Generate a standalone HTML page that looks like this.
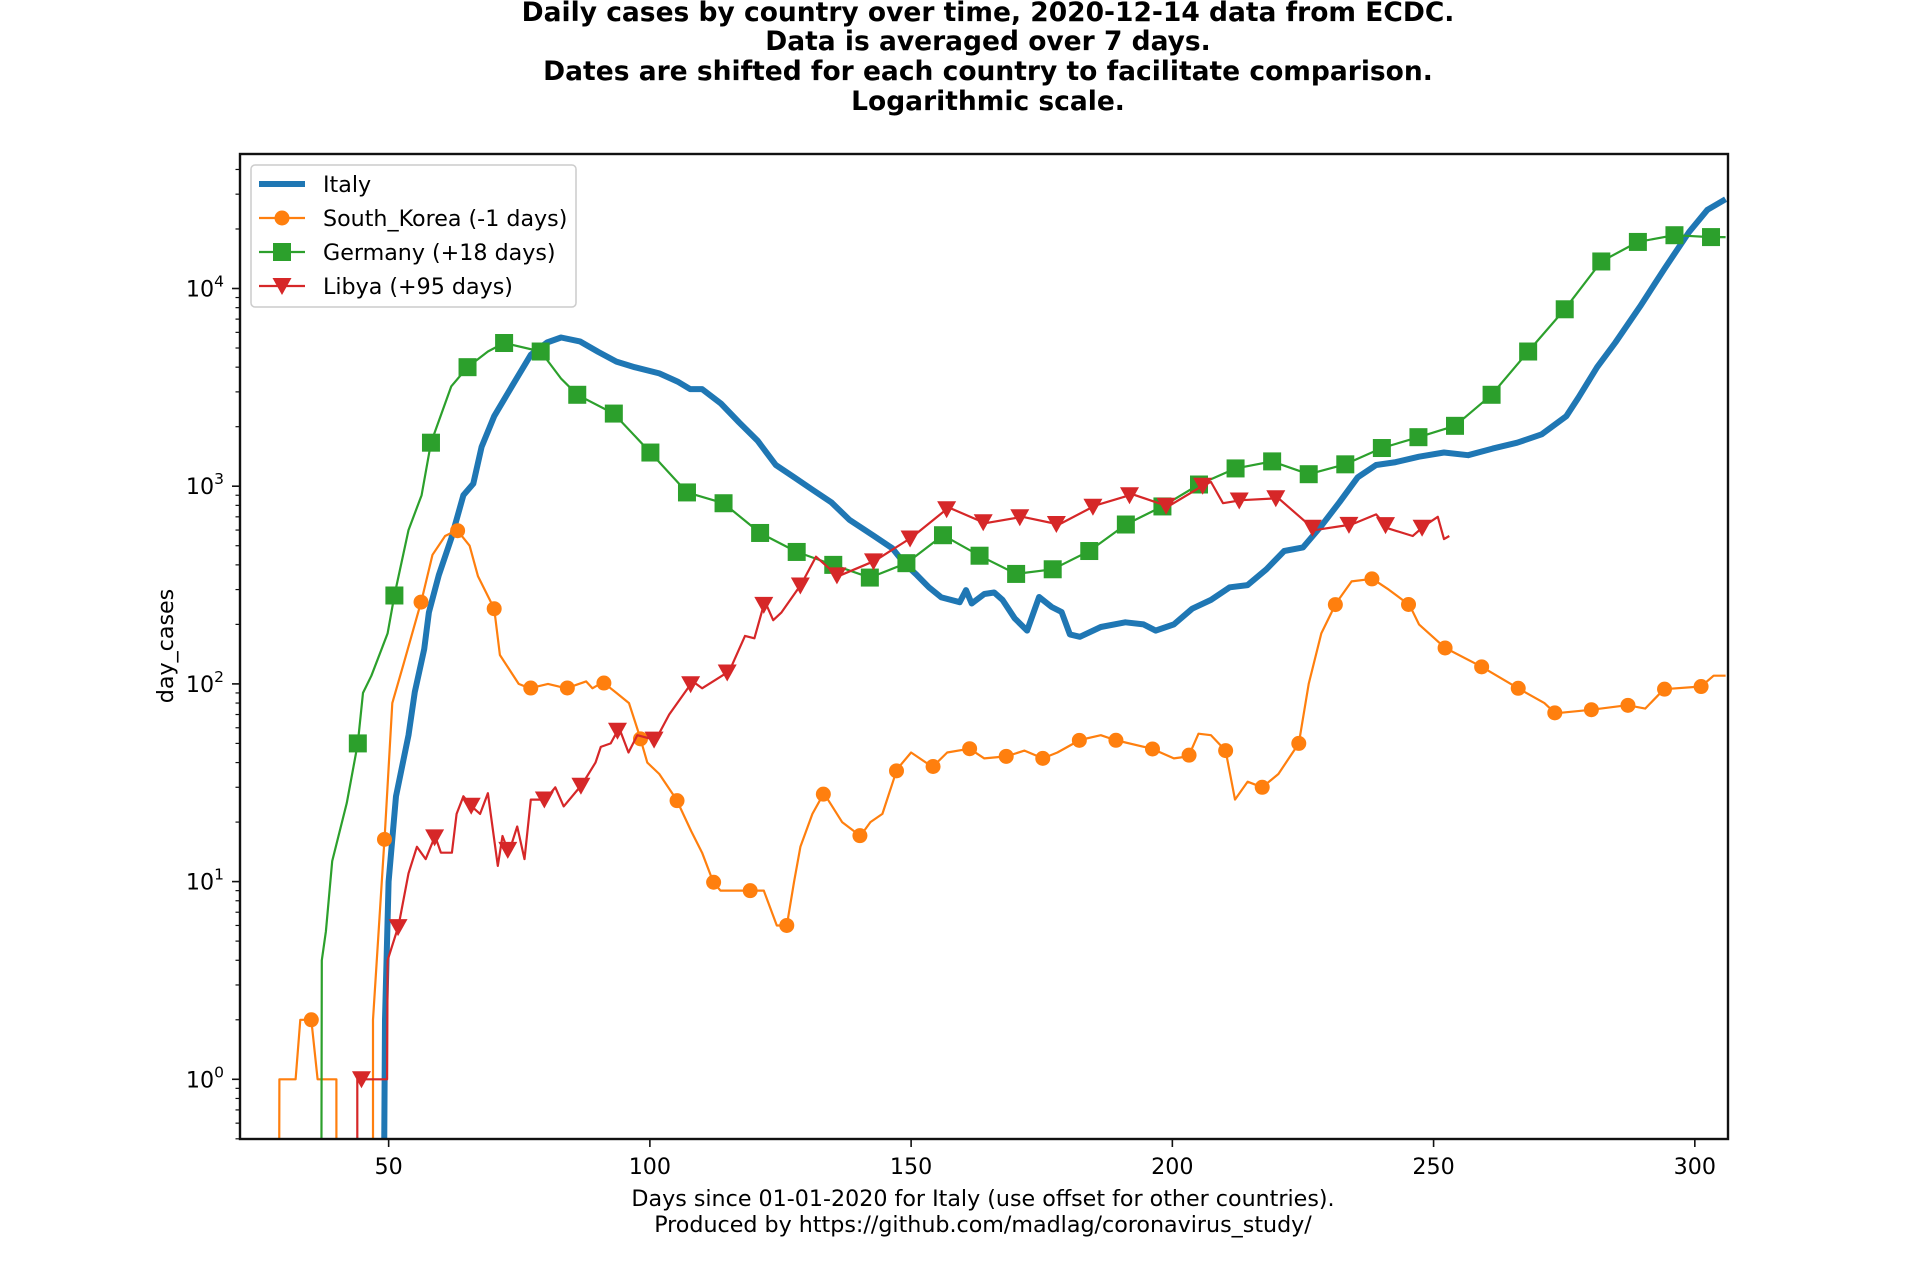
<!DOCTYPE html>
<html><head><meta charset="utf-8">
<style>
html,body{margin:0;padding:0;background:#fff;}
svg{display:block;font-family:"DejaVu Sans","Liberation Sans",sans-serif;}
</style></head>
<body>
<svg id="chart" width="1920" height="1280" viewBox="0 0 1920 1280" xmlns="http://www.w3.org/2000/svg">
<rect width="1920" height="1280" fill="#fff"/>
<g font-weight="bold" font-size="26.5" text-anchor="middle" fill="#000">
<text x="988" y="21">Daily cases by country over time, 2020-12-14 data from ECDC.</text>
<text x="988" y="50">Data is averaged over 7 days.</text>
<text x="988" y="80">Dates are shifted for each country to facilitate comparison.</text>
<text x="988" y="110">Logarithmic scale.</text>
</g>
<defs><clipPath id="plotclip"><rect x="240" y="154" width="1488" height="985"/></clipPath></defs>
<g id="series" clip-path="url(#plotclip)"></g>
<g id="axes"></g>
<g font-size="22.2" text-anchor="middle" fill="#000">
<text x="983" y="1206">Days since 01-01-2020 for Italy (use offset for other countries).</text>
<text x="983" y="1232">Produced by https://github.com/madlag/coronavirus_study/</text>
</g>
<text font-size="22.2" text-anchor="middle" transform="translate(173,646) rotate(-90)">day_cases</text>
<g id="legend"></g>
</svg>
<script>
const xTicks = [50,100,150,200,250,300];
const yDecades = [0,1,2,3,4];
const seriesNames = ["Italy","South_Korea (-1 days)","Germany (+18 days)","Libya (+95 days)"];
const italyDays = [49,49.3,50,51.4,53.8,55,56.8,57.7,59.6,62,64.3,66.2,67.8,70.2,73.7,77.2,80.3,83,86.6,90.1,93.6,97.1,101.8,105.3,107.7,110,113.6,117.1,120.6,124.1,127.6,131.1,134.7,138.2,142.9,146.4,148.7,151.1,153.4,155.8,159.3,160.5,161.6,164,165.9,167.5,169.8,172.2,174.5,176.9,178.8,180.4,182.3,186.3,191,194.5,196.8,200.3,203.8,207.4,211,214.4,218,221.4,225,228.5,232,235.5,239,242.5,247.2,252,256.6,261.3,266,270.7,275.4,277.7,281.3,284.8,289.5,294.2,298.9,302.4,305.9];
const italyValues = [0.1,2,10,27,55,91,150,230,355,545,900,1030,1580,2260,3240,4620,5330,5650,5400,4780,4270,4000,3720,3380,3100,3100,2620,2100,1700,1280,1110,960,830,675,560,485,408,355,308,274,259,298,255,285,290,266,215,186,275,245,231,178,173,194,205,200,186,200,240,266,308,316,380,470,490,630,830,1110,1280,1320,1410,1480,1435,1550,1660,1830,2260,2800,4000,5330,8100,12600,19300,25000,28300];
const koreaDays = [29,29.1,32.2,33.1,35.2,36.4,40,40.01,47,47.01,49.3,50.7,53,56.3,58.4,60.8,63.1,65.5,67.1,70.2,71.3,74.9,77,80.5,84,87.8,89,91,93.6,96,98,99.5,101.8,105.1,107.9,110,112.1,113.5,119.2,121.8,124.3,126.2,127.6,128.8,131.1,133.3,136.8,140.3,142.2,144.5,147.3,150,154.1,156.9,161.2,164,168.2,171.7,175.2,178,182.3,186.3,189,196.1,200.3,203.1,205,207.4,210.2,212,214.4,217.2,220.3,224.2,226.1,228.5,231.3,234.3,238.3,241.4,245.4,247.2,252.2,259.2,266.2,271.2,273.3,280.1,287.1,290.5,294.1,301.2,303.6,305.9];
const koreaValues = [0.1,1,1,2,2,1,1,0.1,0.1,2,18,80,130,265,450,560,600,500,350,240,140,100,95,100,95,103,95,102,90,80,55,40,35,26,18,14,10,9,9,9,6,6,10,15,22,28,20,17,20,22,37,45,38,45,47,42,43,46,42,45,52,55,52,47,42,43,56,55,46,26,32,30,35,50,100,180,255,330,340,300,250,200,152,122,95,80,71,74,78,75,94,97,110,110];
const germanyDays = [37.1,37.2,38,39.2,42,44.1,45.1,46.7,49.8,51.1,53.8,56.3,58.1,62,65.1,69,72.1,79.1,83,86.1,93.1,100.1,107.1,114.1,121.1,128.1,135.1,142.1,149.1,156.1,163.1,170.1,177.1,184.1,191.1,198.1,205.1,212.1,219.1,226.1,233.1,240.1,247.1,254.1,261.1,268.1,275.1,282.1,289.1,296.1,303.1,305.9];
const germanyValues = [0.1,4,5.6,12.7,25,50,90,110,180,280,600,900,1660,3200,4000,4800,5300,4800,3500,2900,2330,1480,930,820,580,465,400,345,408,565,445,360,380,470,640,790,1020,1230,1335,1150,1290,1560,1770,2020,2900,4800,7850,13700,17200,18600,18200,18200];
const libyaDays = [44,44.01,44.8,49.7,49.8,51.9,53.8,55.4,57.1,58.9,60,62.1,63,64.3,65.9,67.5,69,70.9,71.8,73,74.6,76,77.2,80,81.9,83.5,87,89.6,90.6,92.5,94.1,95.9,97.6,101.1,103.7,108.2,110,115.2,118.2,120,122,123.6,125.2,129,131.8,136,143.1,150.1,157.2,164.2,171.3,178.3,185.3,192.4,199.2,206.2,207.4,209.7,213.2,220.3,227.3,234.3,239,241.4,246,248.2,250.8,252,253];
const libyaValues = [0.1,1,1,1,4,6,11,15,13,17,14,14,22,27,24,22,28,12,17,14,19,13,26,26,30,24,31,40,48,50,60,45,55,52,70,103,95,116,175,170,262,210,230,320,440,350,420,550,780,650,700,640,800,910,790,1020,1050,820,850,870,600,640,720,610,560,630,700,540,560];

const X0=240, X1=1728, Y0=154, Y1=1139;
const DMIN=21.55, DMAX=306.35;
function xScale(d){ return X0 + (d-DMIN)/(DMAX-DMIN)*(X1-X0); }
function yScale(v){ return 1079.3 - 197.7*Math.log10(v); }
const NS="http://www.w3.org/2000/svg";
function mk(tag, attrs, parent){ const e=document.createElementNS(NS,tag); for(const k in attrs) e.setAttribute(k,attrs[k]); parent.appendChild(e); return e; }
function interpLog(days, vals, d){
  for(let i=0;i<days.length-1;i++){
    if(d>=days[i] && d<=days[i+1]){
      const t=(d-days[i])/(days[i+1]-days[i]||1);
      return Math.pow(10, Math.log10(vals[i])*(1-t)+Math.log10(vals[i+1])*t);
    }
  }
  return vals[vals.length-1];
}
const seriesG=document.getElementById('series');
const axesG=document.getElementById('axes');
const legendG=document.getElementById('legend');
const colors=["#1f77b4","#ff7f0e","#2ca02c","#d62728"];
const widths=[6,2.2,2.2,2.2];
const markerKinds=[null,"circle","square","triangle"];
const allDays=[italyDays,koreaDays,germanyDays,libyaDays];
const allVals=[italyValues,koreaValues,germanyValues,libyaValues];
const markerStart=[null,35.2,37.1,44.8];
const seriesKeys=["italy","south-korea","germany","libya"];

function drawMarker(kind, cx, cy, color, parent){
  let m;
  if(kind==="circle") m=mk('circle',{cx:cx,cy:cy,r:7.5,fill:color},parent);
  else if(kind==="square") m=mk('rect',{x:cx-9,y:cy-9,width:18,height:18,fill:color},parent);
  else m=mk('polygon',{points:`${cx-9.5},${cy-8} ${cx+9.5},${cy-8} ${cx},${cy+9}`,fill:color},parent);
  return m;
}

for(let s=0;s<4;s++){
  const g=mk('g',{},seriesG);
  
  
  const days=allDays[s], vals=allVals[s];
  let d='';
  for(let i=0;i<days.length;i++){ d+=(i?'L':'M')+xScale(days[i]).toFixed(1)+','+yScale(vals[i]).toFixed(1); }
  const p=mk('path',{d:d,fill:'none',stroke:colors[s],'stroke-width':widths[s],'stroke-linejoin':'round'},g);
  
  
  if(markerKinds[s]){
    const last=days[days.length-1];
    for(let md=markerStart[s]; md<=last+0.01; md+=7){
      const v=interpLog(days,vals,md);
      if(v<0.5) continue;
      const m=drawMarker(markerKinds[s], xScale(md), yScale(v), colors[s], g);
      
      
    }
  }
}

const frame=mk('rect',{x:X0,y:Y0,width:X1-X0,height:Y1-Y0,fill:'none',stroke:'#111','stroke-width':2.4},axesG);


for(const t of xTicks){
  const x=xScale(t);
  const tk=mk('line',{x1:x,x2:x,y1:Y1,y2:Y1+8,stroke:'#111','stroke-width':1.6},axesG);
  
  
  const lb=mk('text',{x:x,y:1174,'font-size':22.2,'text-anchor':'middle'},axesG);
  lb.textContent=String(t);
  
  
}
for(let dec=-1; dec<=4; dec++){
  for(let k=1;k<=9;k++){
    const v=k*Math.pow(10,dec);
    const y=yScale(v);
    if(y<Y0-0.5||y>Y1+0.5) continue;
    const major=(k===1);
    const tk=mk('line',{x1:X0-(major?8:4.5),x2:X0,y1:y,y2:y,stroke:'#111','stroke-width':major?1.6:1.2},axesG);
    
    
  }
}
for(const e of yDecades){
  const y=yScale(Math.pow(10,e));
  const lb=mk('text',{x:X0-16,y:y+8,'font-size':22.2,'text-anchor':'end'},axesG);
  
  
  const t1=mk('tspan',{},lb); t1.textContent='10';
  const t2=mk('tspan',{dy:-10,'font-size':15.5}, lb); t2.textContent=String(e);
}
const lb=mk('rect',{x:251,y:165,width:325,height:142,rx:4,fill:'#fff','fill-opacity':0.8,stroke:'#ccc','stroke-width':1.5},legendG);


for(let s=0;s<4;s++){
  const y=184+34*s;
  const g=mk('g',{},legendG);
  
  
  mk('line',{x1:259,x2:305,y1:y,y2:y,stroke:colors[s],'stroke-width':widths[s]},g);
  if(markerKinds[s]) drawMarker(markerKinds[s],282,y,colors[s],g);
  const t=mk('text',{x:323,y:y+8,'font-size':22.2},g);
  t.textContent=seriesNames[s];
}
</script>
</body></html>
